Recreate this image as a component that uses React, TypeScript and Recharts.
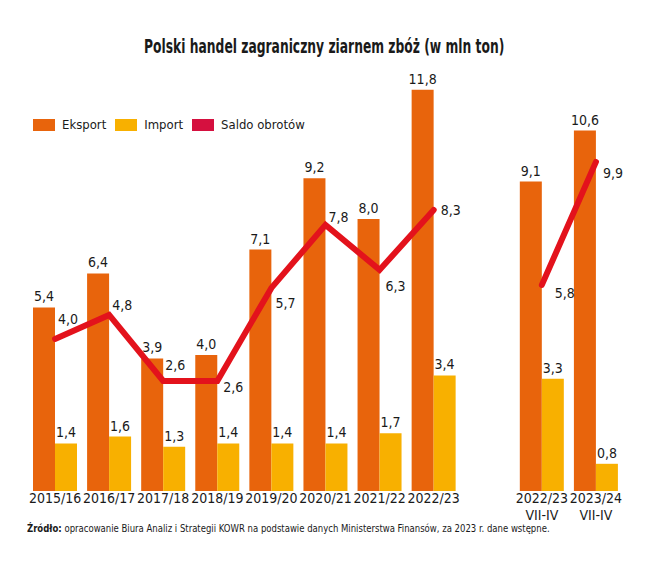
import React from 'react';
import { Bar, Line, XAxis, YAxis, LabelList, ComposedChart } from 'recharts';

const categories = ['2015/16', '2016/17', '2017/18', '2018/19', '2019/20', '2020/21', '2021/22', '2022/23', '', '2022/23\nVII-IV', '2023/24\nVII-IV'];
const eksport = [5.4, 6.4, 3.9, 4.0, 7.1, 9.2, 8.0, 11.8, null, 9.1, 10.6];
const importVals = [1.4, 1.6, 1.3, 1.4, 1.4, 1.4, 1.7, 3.4, null, 3.3, 0.8];
const saldo = [4.0, 4.8, 2.6, 2.6, 5.7, 7.8, 6.3, 8.3, null, 5.8, 9.9];

// label placement (style only): [dx, dy of text centre] relative to the line point
const SALDO_LABEL_OFFSETS: [number, number][] = [
  [3, -20], [3, -10], [2, -16], [6, 6], [4, 15], [3, -8], [6, 16], [7, 0], [0, 0], [13, 8], [7, 11],
];

const data = categories.map((c, i) => ({
  name: c,
  eksport: eksport[i],
  import: importVals[i],
  saldo: saldo[i],
}));

const FONT = "'DejaVu Sans Condensed', 'Liberation Sans Narrow', sans-serif";
const ORANGE = '#E8640C';
const YELLOW = '#F8B000';
const RED = '#E3121C';
const LEGEND_RED = '#D5103F';
const TEXT = '#1a1a1a';

const fmt = (v: any) => (v == null ? '' : Number(v).toFixed(1).replace('.', ','));

const Tick = (props: any) => {
  const { x, y, payload } = props;
  const lines = String(payload.value).split('\n');
  return (
    <g transform={`translate(${x},${y})`}>
      {lines.map((l, i) => (
        <text key={i} x={0} y={i * 17} dy={4} textAnchor="middle" fontSize={14} fontFamily={FONT} fill={TEXT}>
          {l}
        </text>
      ))}
    </g>
  );
};

const SaldoLabel = (props: any) => {
  const { x, y, value, index } = props;
  if (value == null) return null;
  const [dx, dy] = SALDO_LABEL_OFFSETS[index] || [4, -8];
  return (
    <text x={x + dx} y={y + dy + 5} textAnchor="start" fontSize={14} fontFamily={FONT} fill={TEXT}>
      {fmt(value)}
    </text>
  );
};

const LegendItem = ({ color, label }: { color: string; label: string }) => (
  <div style={{ display: 'flex', alignItems: 'center', marginRight: 9 }}>
    <div style={{ width: 22, height: 12, background: color, marginRight: 7 }} />
    <span style={{ fontSize: 13, fontFamily: FONT, color: TEXT }}>{label}</span>
  </div>
);

export default function App() {
  return (
    <div style={{ position: 'relative', width: 633, height: 546, background: '#fff', overflow: 'hidden' }}>
      <div
        style={{
          position: 'absolute',
          top: 27,
          left: 0,
          width: 633,
          textAlign: 'center',
          fontFamily: FONT,
          fontSize: 19,
          fontWeight: 'bold',
          color: TEXT,
          whiteSpace: 'nowrap',
        }}
      >
        <span style={{ display: 'inline-block', transform: 'scaleX(0.72)', transformOrigin: 'center' }}>
          Polski handel zagraniczny ziarnem zbóż (w mln ton)
        </span>
      </div>
      <div style={{ position: 'absolute', top: 109, left: 25, display: 'flex', zIndex: 2 }}>
        <LegendItem color={ORANGE} label="Eksport" />
        <LegendItem color={YELLOW} label="Import" />
        <LegendItem color={LEGEND_RED} label="Saldo obrotów" />
      </div>
      <ComposedChart
        width={633}
        height={546}
        data={data}
        margin={{ top: 75, right: 18, bottom: 23, left: 20 }}
        barGap={0}
      >
        <XAxis dataKey="name" axisLine={false} tickLine={false} interval={0} tick={<Tick />} height={40} />
        <YAxis yAxisId="bars" hide domain={[0, 12]} />
        <YAxis yAxisId="saldo" hide domain={[-1.07, 12.53]} orientation="right" width={0} />
        <Bar yAxisId="bars" dataKey="eksport" fill={ORANGE} barSize={22} isAnimationActive={false}>
          <LabelList dataKey="eksport" position="top" offset={6} formatter={fmt} style={{ fontSize: 14, fontFamily: FONT, fill: TEXT }} />
        </Bar>
        <Bar yAxisId="bars" dataKey="import" fill={YELLOW} barSize={22} isAnimationActive={false}>
          <LabelList dataKey="import" position="top" offset={6} formatter={fmt} style={{ fontSize: 14, fontFamily: FONT, fill: TEXT }} />
        </Bar>
        <Line
          yAxisId="saldo"
          dataKey="saldo"
          stroke={RED}
          strokeWidth={6}
          dot={false}
          activeDot={false}
          connectNulls={false}
          strokeLinecap="round"
          isAnimationActive={false}
        >
          <LabelList dataKey="saldo" content={<SaldoLabel />} />
        </Line>
      </ComposedChart>
      <div style={{ position: 'absolute', top: 514, left: 19, fontFamily: FONT, fontSize: 11, color: TEXT, whiteSpace: 'nowrap', transform: 'scaleX(0.86)', transformOrigin: 'left' }}>
        <b>Źródło:</b> opracowanie Biura Analiz i Strategii KOWR na podstawie danych Ministerstwa Finansów, za 2023 r. dane wstępne.
      </div>
    </div>
  );
}
